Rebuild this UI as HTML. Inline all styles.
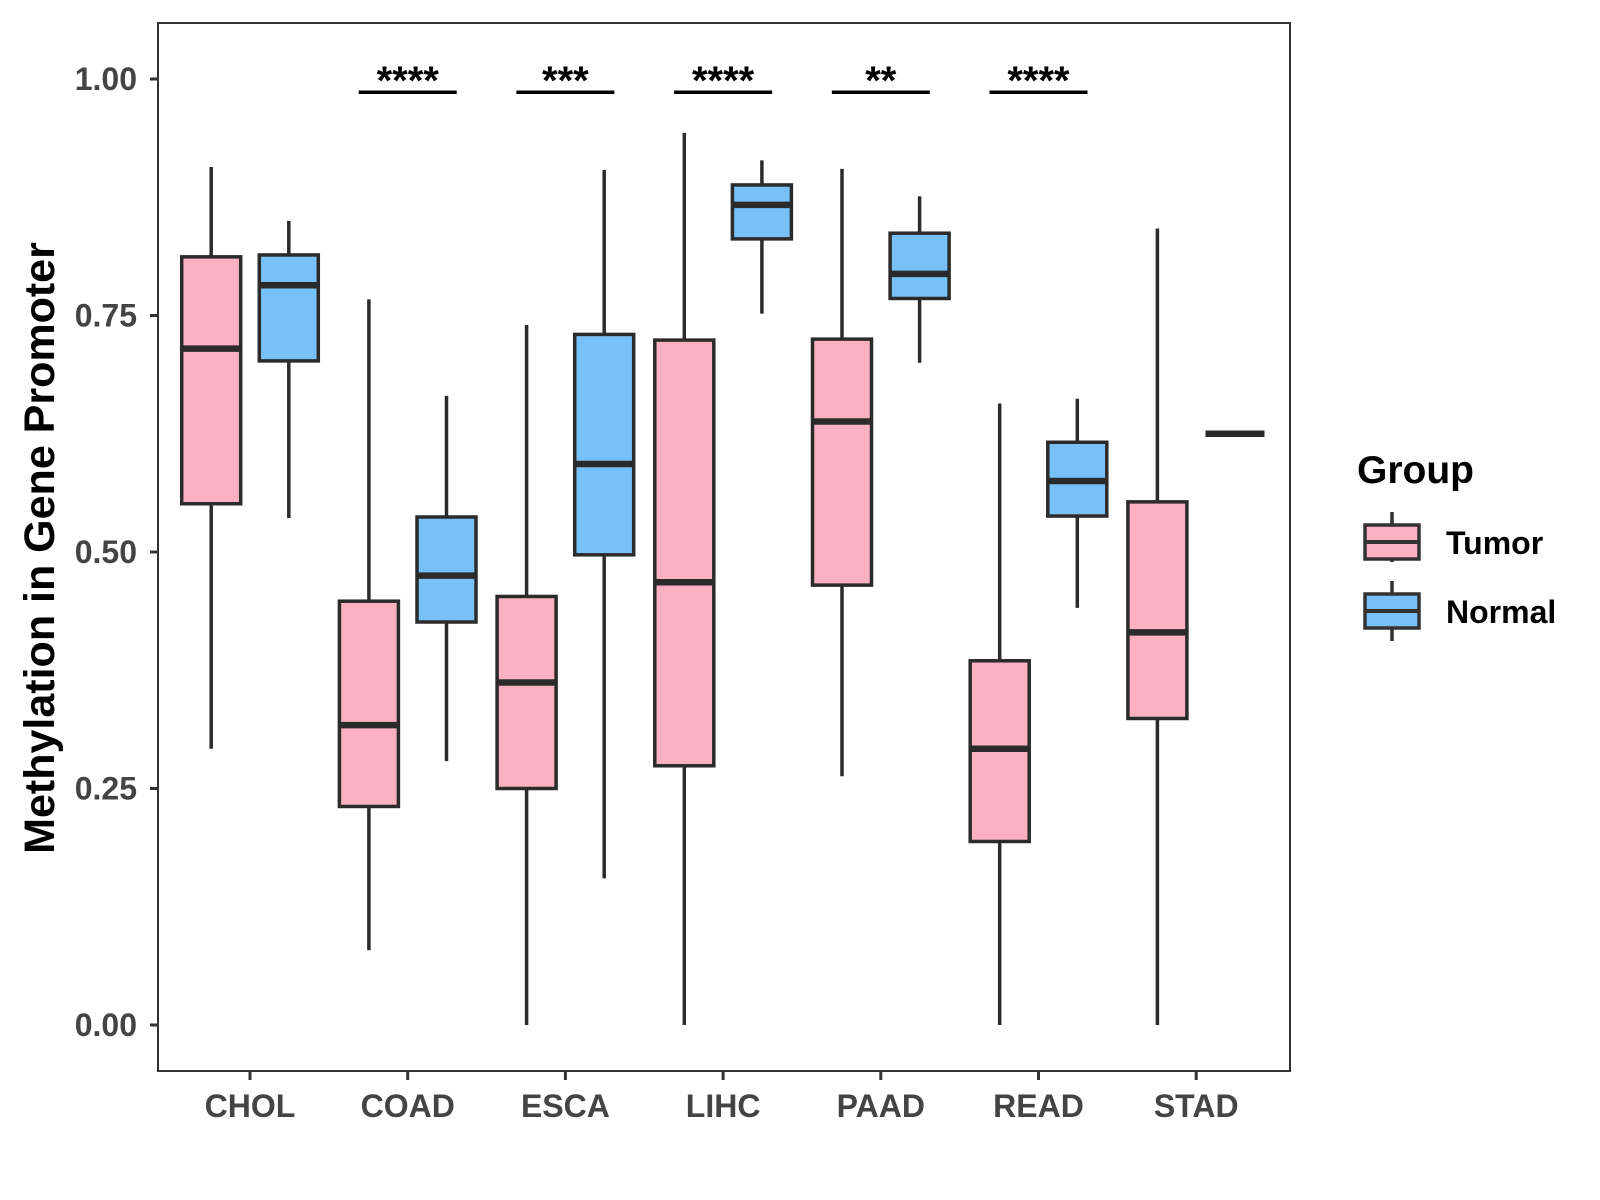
<!DOCTYPE html>
<html><head><meta charset="utf-8"><style>
html,body{margin:0;padding:0;background:#fff;}
svg{display:block;font-family:"Liberation Sans",Arial,sans-serif;}
</style></head><body>
<svg id="chart" width="1600" height="1200" viewBox="0 0 1600 1200" xmlns="http://www.w3.org/2000/svg">
<rect x="0" y="0" width="1600" height="1200" fill="#fff"/>
<g id="plot"></g>
<rect x="158" y="23" width="1132" height="1048" fill="none" stroke="#333" stroke-width="2"/>
<text transform="translate(54,548) rotate(-90)" text-anchor="middle" font-size="43" font-weight="bold" fill="#000">Methylation in Gene Promoter</text>
<g>
<text x="1357" y="483" font-size="39" font-weight="bold" fill="#000">Group</text>
<g>
<line x1="1392" y1="512" x2="1392" y2="562" stroke="#333" stroke-width="3.5"/>
<rect x="1365" y="525" width="54" height="34" fill="#FCB1C3" stroke="#333" stroke-width="3.5"/>
<line x1="1365" y1="542" x2="1419" y2="542" stroke="#333" stroke-width="4"/>
<text x="1446" y="554" font-size="32" font-weight="bold" fill="#000">Tumor</text>
</g>
<g>
<line x1="1392" y1="581" x2="1392" y2="641" stroke="#333" stroke-width="3.5"/>
<rect x="1365" y="594" width="54" height="34" fill="#77C1F8" stroke="#333" stroke-width="3.5"/>
<line x1="1365" y1="611" x2="1419" y2="611" stroke="#333" stroke-width="4"/>
<text x="1446" y="623" font-size="32" font-weight="bold" fill="#000">Normal</text>
</g>
</g>
</svg>
<script>
const categories = ["CHOL","COAD","ESCA","LIHC","PAAD","READ","STAD"];
// [lower whisker, Q1, median, Q3, upper whisker]
const tumorStats = [
  [0.292,0.551,0.715,0.812,0.907],
  [0.079,0.231,0.317,0.448,0.767],
  [0.000,0.250,0.362,0.453,0.740],
  [0.000,0.274,0.468,0.724,0.943],
  [0.263,0.465,0.638,0.725,0.905],
  [0.000,0.194,0.292,0.385,0.657],
  [0.000,0.324,0.415,0.553,0.842]
];
const normalStats = [
  [0.536,0.702,0.782,0.814,0.850],
  [0.279,0.426,0.475,0.537,0.665],
  [0.155,0.497,0.593,0.730,0.904],
  [0.752,0.831,0.867,0.888,0.914],
  [0.700,0.768,0.794,0.837,0.876],
  [0.441,0.538,0.575,0.616,0.662],
  [0.625,0.625,0.625,0.625,0.625]
];
const sigLabels = ["","****","***","****","**","****",""];
const sigY = 0.986;
const yTicks = [0,0.25,0.5,0.75,1.0];
const yTickLabels = ["0.00","0.25","0.50","0.75","1.00"];

const NS="http://www.w3.org/2000/svg";
const g=document.getElementById('plot');
const Y0=1025, Y1=79;
function yScale(v){return Y0-(Y0-Y1)*v;}
function xScale(i){return 250+157.7*i;}
const boxW=59, dodge=38.8;
function mk(tag,attrs,parent){const e=document.createElementNS(NS,tag);for(const k in attrs)e.setAttribute(k,attrs[k]);(parent||g).appendChild(e);return e;}

yTicks.forEach((t,i)=>{
  const y=yScale(t);
  const tk=mk('line',{x1:150,x2:158,y1:y,y2:y,stroke:'#333','stroke-width':3});
  
  
  const tx=mk('text',{x:137,y:y+11,'text-anchor':'end','font-size':32,'font-weight':'bold',fill:'#444'});
  tx.textContent=yTickLabels[i];
  
  
});
categories.forEach((c,i)=>{
  const x=xScale(i);
  const tk=mk('line',{x1:x,x2:x,y1:1072,y2:1080,stroke:'#333','stroke-width':3});
  
  
  const tx=mk('text',{x:x,y:1117,'text-anchor':'middle','font-size':32,'font-weight':'bold',fill:'#444'});
  tx.textContent=c;
  
  
});
function drawBox(s,cx,fill,name){
  const grp=mk('g',{});
  
  
  mk('line',{x1:cx,x2:cx,y1:yScale(s[4]),y2:yScale(s[3]),stroke:'#2b2b2b','stroke-width':3.5},grp);
  mk('line',{x1:cx,x2:cx,y1:yScale(s[1]),y2:yScale(s[0]),stroke:'#2b2b2b','stroke-width':3.5},grp);
  const h=Math.max(yScale(s[1])-yScale(s[3]),0);
  mk('rect',{x:cx-boxW/2,y:yScale(s[3]),width:boxW,height:h,fill:fill,stroke:'#2b2b2b','stroke-width':3.5},grp);
  mk('line',{x1:cx-boxW/2,x2:cx+boxW/2,y1:yScale(s[2]),y2:yScale(s[2]),stroke:'#2b2b2b','stroke-width':6.5},grp);
}
categories.forEach((c,i)=>{
  const x=xScale(i);
  drawBox(tumorStats[i],x-dodge,'#FCB1C3','box-tumor-'+c.toLowerCase());
  drawBox(normalStats[i],x+dodge,'#77C1F8','box-normal-'+c.toLowerCase());
  if(sigLabels[i]){
    const y=yScale(sigY);
    const ln=mk('line',{x1:x-49,x2:x+49,y1:y,y2:y,stroke:'#000','stroke-width':3.5});
    
    
    const tx=mk('text',{x:x,y:y+2,'text-anchor':'middle','font-size':40,'font-weight':'bold',fill:'#000'});
    tx.textContent=sigLabels[i];
    
    
  }
});
</script>
</body></html>
